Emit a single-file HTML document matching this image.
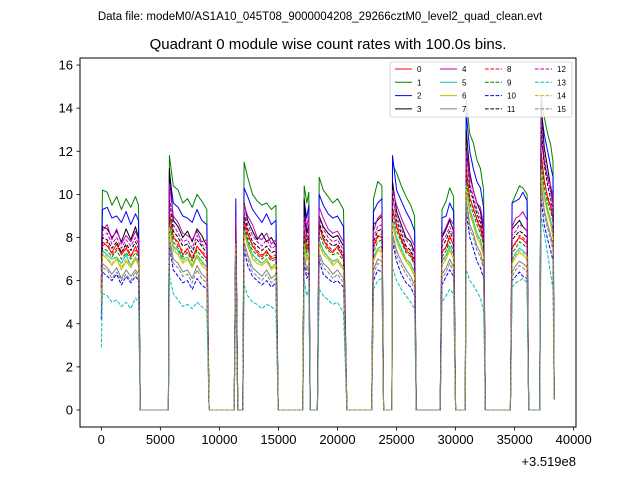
<!DOCTYPE html>
<html><head><meta charset="utf-8"><style>
body{margin:0;background:#fff}
svg{font-family:"Liberation Sans","DejaVu Sans",sans-serif}
</style></head><body>
<svg id="chart" width="640" height="480" viewBox="0 0 640 480" xmlns="http://www.w3.org/2000/svg">
<rect x="0" y="0" width="640" height="480" fill="#fff"/>
<text x="320" y="20" font-size="11.5" text-anchor="middle">Data file: modeM0/AS1A10_045T08_9000004208_29266cztM0_level2_quad_clean.evt</text>
<text x="328" y="49" font-size="15" text-anchor="middle">Quadrant 0 module wise count rates with 100.0s bins.</text>
<g id="plot"></g>
<g id="axes"></g>
<g id="legend"></g>
<text x="576" y="466" font-size="13" text-anchor="end">+3.519e8</text>
</svg>
<script>
const times=[0,100,500,900,1300,1700,2100,2500,2900,3150,3300,5680,5770,6100,6500,6900,7300,7700,8100,8500,8930,9130,11250,11390,11560,11980,12090,12400,12800,13200,13600,14000,14400,14780,14980,17060,17180,17400,17570,17690,18300,18450,18800,19200,19600,20000,20510,20800,22900,23050,23400,23760,23900,24610,24660,25000,25400,25800,26200,26530,26670,28700,28850,29200,29500,29830,30000,30820,30900,31200,31500,31800,32100,32370,32520,34640,34780,35100,35400,35700,36050,36190,37120,37240,37500,37800,38050,38250,38350];
const s0=[5.5,7.8,7.6,7.3,7.7,7.2,7.5,7.1,7.6,7.2,0,0,9.2,8.0,7.8,7.2,7.5,7.0,7.6,7.3,7.0,0,0,8.0,0,0,8.8,8.2,7.6,7.3,7.1,7.4,7.0,7.1,0,0,8.4,7.4,7.8,0,0,8.6,7.9,7.5,7.3,7.6,7.0,0,0,7.6,8.1,8.0,0,0,9.4,8.5,7.9,7.4,7.2,6.8,0,0,7.3,7.6,8.1,7.6,0,0,11.3,9.8,9.4,8.8,8.4,7.8,0,0,7.5,7.8,8.0,7.9,7.7,0,0,12.0,10.7,9.8,9.4,8.9,0.5];
const s1=[7.0,10.2,10.1,9.5,9.9,9.3,9.8,9.4,9.9,9.5,0,0,11.8,10.4,10.2,9.6,9.8,9.4,10.0,9.7,9.3,0,0,8.5,0,0,11.5,10.8,10.0,9.7,9.5,9.6,9.3,9.5,0,0,10.4,9.6,10.1,0,0,10.8,10.2,9.9,9.6,9.8,9.3,0,0,9.8,10.6,10.4,0,0,11.4,11.0,10.4,9.9,9.5,9.0,0,0,9.3,9.7,10.3,9.9,0,0,14.4,12.8,12.4,11.6,11.2,10.2,0,0,9.6,10.0,10.4,10.3,10.0,0,0,14.6,13.6,12.8,12.3,11.5,0.6];
const s2=[6.5,9.3,9.4,8.9,9.0,8.7,9.2,8.6,9.1,8.8,0,0,11.0,9.6,9.4,9.0,8.9,8.7,9.3,8.8,8.6,0,0,9.8,0,0,10.3,9.9,9.3,9.0,8.7,9.1,8.6,8.8,0,0,9.7,8.9,9.5,0,0,10.0,9.5,9.1,8.9,9.0,8.5,0,0,9.2,9.6,9.8,0,0,11.8,10.2,9.7,9.2,8.8,8.3,0,0,8.9,9.0,9.6,9.2,0,0,13.8,12.0,11.2,10.6,10.3,9.4,0,0,9.6,9.7,9.8,10.1,9.7,0,0,13.9,12.8,12.0,11.3,10.8,0.6];
const s3=[6.0,8.5,8.4,8.0,8.3,7.8,8.4,7.9,8.5,8.0,0,0,11.2,8.8,8.5,8.0,8.3,7.8,8.4,8.1,7.6,0,0,8.6,0,0,9.6,8.8,8.3,7.9,8.2,7.8,8.0,7.6,0,0,9.8,8.2,8.6,0,0,9.0,8.5,8.2,8.0,8.1,7.6,0,0,8.6,8.8,9.0,0,0,10.6,9.2,8.6,8.0,7.8,7.3,0,0,8.0,8.4,8.8,8.3,0,0,13.0,11.0,10.2,9.6,9.2,8.3,0,0,8.4,8.6,8.8,8.5,8.3,0,0,14.2,12.2,11.2,10.3,9.6,0.5];
const s4=[6.0,8.3,8.6,7.9,8.4,7.7,8.1,7.8,8.3,7.9,0,0,10.5,9.0,8.7,8.2,8.1,7.9,8.3,7.8,7.9,0,0,9.0,0,0,9.5,9.0,8.6,8.0,7.9,8.2,7.7,7.9,0,0,9.2,8.5,9.0,0,0,9.4,8.9,8.4,8.2,8.3,7.8,0,0,8.3,8.9,9.1,0,0,10.2,9.5,8.9,8.4,8.0,7.6,0,0,8.1,8.5,8.9,8.6,0,0,12.2,10.8,10.2,9.6,9.4,8.6,0,0,8.5,8.9,9.0,9.2,8.8,0,0,12.6,11.5,10.8,10.4,9.9,0.6];
const s5=[5.0,7.4,7.2,7.0,7.1,6.8,7.2,6.7,7.1,6.9,0,0,8.6,7.6,7.4,7.0,7.1,6.7,7.2,6.9,6.6,0,0,7.8,0,0,8.4,7.8,7.2,7.0,6.8,7.0,6.6,6.8,0,0,7.8,7.1,7.3,0,0,7.9,7.4,7.1,6.9,7.0,6.6,0,0,7.1,7.5,7.6,0,0,8.8,8.0,7.5,7.0,6.8,6.4,0,0,6.9,7.2,7.6,7.2,0,0,10.6,9.3,8.8,8.2,7.9,7.3,0,0,7.0,7.3,7.5,7.4,7.2,0,0,11.3,10.0,9.3,8.8,8.3,0.5];
const s6=[4.8,7.2,7.0,6.7,7.0,6.5,6.9,6.6,7.0,6.7,0,0,8.4,7.4,7.2,6.8,7.0,6.6,7.1,6.7,6.5,0,0,7.6,0,0,8.2,7.6,7.0,6.8,6.7,6.9,6.5,6.7,0,0,7.6,6.9,7.2,0,0,7.7,7.2,7.0,6.7,6.9,6.5,0,0,6.9,7.4,7.3,0,0,8.6,7.8,7.3,6.9,6.6,6.2,0,0,6.7,7.0,7.4,7.0,0,0,10.3,9.1,8.6,8.0,7.7,7.1,0,0,6.8,7.1,7.3,7.2,7.0,0,0,11.0,9.8,9.1,8.6,8.0,0.5];
const s7=[4.5,6.8,6.6,6.3,6.6,6.1,6.5,6.2,6.5,6.3,0,0,8.0,7.0,6.8,6.4,6.5,6.1,6.7,6.3,6.1,0,0,7.2,0,0,7.8,7.2,6.6,6.4,6.2,6.5,6.1,6.3,0,0,7.2,6.5,6.8,0,0,7.3,6.8,6.6,6.3,6.5,6.1,0,0,6.5,7.0,6.9,0,0,8.2,7.4,6.9,6.5,6.2,5.8,0,0,6.3,6.6,7.0,6.6,0,0,9.8,8.6,8.2,7.6,7.3,6.7,0,0,6.4,6.7,6.9,6.8,6.6,0,0,10.5,9.3,8.6,8.1,7.6,0.5];
const s8=[5.6,7.6,7.8,7.2,7.5,7.3,7.6,7.2,7.4,7.3,0,0,9.0,8.1,7.6,7.4,7.3,7.1,7.5,7.4,7.1,0,0,8.1,0,0,8.7,8.0,7.7,7.4,7.2,7.3,7.1,7.2,0,0,8.2,7.6,7.9,0,0,8.4,8.0,7.6,7.4,7.5,7.1,0,0,7.5,8.0,8.2,0,0,9.2,8.6,8.0,7.5,7.3,6.9,0,0,7.4,7.5,8.0,7.7,0,0,11.1,9.9,9.3,8.9,8.5,7.9,0,0,7.6,7.7,8.1,8.0,7.8,0,0,11.8,10.6,9.9,9.5,9.0,0.5];
const s9=[5.4,7.5,7.4,7.1,7.4,7.0,7.3,7.0,7.3,7.1,0,0,8.8,7.8,7.5,7.1,7.3,6.9,7.4,7.1,6.9,0,0,7.9,0,0,8.5,7.9,7.4,7.2,7.0,7.2,6.9,7.0,0,0,8.0,7.3,7.6,0,0,8.2,7.7,7.4,7.2,7.3,6.9,0,0,7.3,7.8,7.9,0,0,9.0,8.3,7.8,7.3,7.1,6.7,0,0,7.1,7.4,7.8,7.4,0,0,10.8,9.6,9.1,8.6,8.2,7.6,0,0,7.3,7.5,7.8,7.7,7.5,0,0,11.6,10.3,9.6,9.2,8.7,0.5];
const s10=[4.2,6.4,6.2,6.0,6.3,5.8,6.2,5.9,6.2,6.0,0,0,7.6,6.5,6.2,5.9,6.0,5.6,6.1,5.8,5.6,0,0,7.0,0,0,7.4,6.7,6.2,6.0,5.8,6.0,5.7,5.9,0,0,6.8,6.1,6.4,0,0,6.9,6.3,6.1,5.9,6.0,5.7,0,0,6.0,6.5,6.4,0,0,7.8,6.9,6.3,5.9,5.7,5.3,0,0,5.8,6.2,6.5,6.2,0,0,9.2,8.0,7.5,6.9,6.6,6.1,0,0,6.0,6.2,6.4,6.2,6.1,0,0,9.8,8.6,7.9,7.4,6.9,0.5];
const s11=[5.7,8.0,7.9,7.5,7.8,7.3,7.7,7.4,7.8,7.5,0,0,9.8,8.3,8.0,7.6,7.7,7.3,7.9,7.6,7.3,0,0,8.3,0,0,9.0,8.4,7.8,7.6,7.4,7.6,7.3,7.4,0,0,9.3,7.8,8.1,0,0,8.7,8.1,7.8,7.6,7.7,7.2,0,0,7.8,8.3,8.4,0,0,10.0,8.8,8.2,7.6,7.4,7.0,0,0,7.6,7.9,8.3,7.9,0,0,12.2,10.3,9.7,9.1,8.7,8.0,0,0,7.9,8.1,8.3,8.2,8.0,0,0,13.2,11.4,10.4,9.8,9.2,0.5];
const s12=[5.8,8.1,8.2,7.7,8.0,7.5,7.9,7.6,8.0,7.7,0,0,9.9,8.6,8.2,7.8,7.9,7.5,8.1,7.7,7.5,0,0,8.6,0,0,9.2,8.6,8.1,7.8,7.6,7.9,7.5,7.6,0,0,8.9,8.0,8.4,0,0,8.9,8.4,8.0,7.8,7.9,7.4,0,0,8.0,8.5,8.6,0,0,9.8,9.0,8.4,7.9,7.6,7.2,0,0,7.8,8.1,8.5,8.1,0,0,12.0,10.5,9.9,9.3,8.9,8.2,0,0,8.1,8.3,8.6,8.5,8.3,0,0,13.6,11.8,10.7,10.1,9.5,0.5];
const s13=[2.9,5.4,5.3,5.0,5.1,4.8,5.0,4.7,5.2,5.0,0,0,6.2,5.4,5.1,4.8,4.9,4.7,5.0,4.8,4.6,0,0,5.6,0,0,5.8,5.3,5.0,4.9,4.7,4.9,4.8,4.6,0,0,6.0,5.3,5.6,0,0,5.6,5.3,5.1,4.9,5.0,4.5,0,0,5.6,6.0,6.1,0,0,6.6,6.0,5.6,5.3,5.0,4.7,0,0,5.0,5.3,5.6,5.4,0,0,6.5,6.0,5.8,5.5,5.2,4.6,0,0,5.7,5.9,6.0,6.1,5.9,0,0,9.0,8.2,7.2,6.3,5.6,0.5];
const s14=[5.0,7.3,7.1,6.8,7.1,6.6,7.0,6.7,7.1,6.8,0,0,8.5,7.5,7.3,6.9,7.1,6.7,7.2,6.8,6.6,0,0,7.7,0,0,8.3,7.7,7.1,6.9,6.8,7.0,6.6,6.8,0,0,7.7,7.0,7.3,0,0,7.8,7.3,7.1,6.8,7.0,6.6,0,0,7.0,7.5,7.4,0,0,8.7,7.9,7.4,7.0,6.7,6.3,0,0,6.8,7.1,7.5,7.1,0,0,10.4,9.2,8.7,8.1,7.8,7.2,0,0,6.9,7.2,7.4,7.3,7.1,0,0,11.1,9.9,9.2,8.7,8.1,0.5];
const s15=[4.4,6.6,6.5,6.1,6.4,6.0,6.3,6.0,6.4,6.1,0,0,7.8,6.8,6.6,6.2,6.3,5.9,6.5,6.1,5.9,0,0,7.0,0,0,7.6,7.0,6.4,6.2,6.0,6.3,5.9,6.1,0,0,7.0,6.3,6.6,0,0,7.1,6.6,6.4,6.1,6.3,5.9,0,0,6.3,6.8,6.7,0,0,8.0,7.2,6.7,6.3,6.0,5.6,0,0,6.1,6.4,6.8,6.4,0,0,9.6,8.4,8.0,7.4,7.1,6.5,0,0,6.2,6.5,6.7,6.6,6.4,0,0,10.3,9.1,8.4,7.9,7.4,0.5];
const seriesLabels=["0","1","2","3","4","5","6","7","8","9","10","11","12","13","14","15"];
const xTicks=[0,5000,10000,15000,20000,25000,30000,35000,40000];
const yTicks=[0,2,4,6,8,10,12,14,16];

const allSeries=[s0,s1,s2,s3,s4,s5,s6,s7,s8,s9,s10,s11,s12,s13,s14,s15];
const colors=["#ff0000","#008000","#0000ff","#000000","#bf00bf","#00bfbf","#bfbf00","#808080"];
const NS="http://www.w3.org/2000/svg";
const L=80,R=576,T=58,B=427;
function xs(t){return 101.3+t*0.01181;}
function ys(v){return 410-v*21.56;}
function mk(tag,attrs,parent){const e=document.createElementNS(NS,tag);for(const k in attrs)e.setAttribute(k,attrs[k]);parent.appendChild(e);return e;}
const plot=document.getElementById('plot'),axes=document.getElementById('axes'),leg=document.getElementById('legend');
// series
allSeries.forEach((arr,i)=>{
  const n=Math.min(arr.length,times.length);
  let d='';
  for(let k=0;k<n;k++){d+=(k?'L':'M')+xs(times[k]).toFixed(1)+','+ys(arr[k]).toFixed(1);}
  const p=mk('path',{d:d,fill:'none',stroke:colors[i%8],'stroke-width':1,'stroke-linejoin':'round'},plot);
  if(i>=8)p.setAttribute('stroke-dasharray','3.7,1.6');
  
  
});
// frame
const fr=mk('rect',{x:L,y:T,width:R-L,height:B-T,fill:'none',stroke:'#000','stroke-width':1},axes);


xTicks.forEach(t=>{
  const x=xs(t);
  mk('line',{x1:x,x2:x,y1:B,y2:B+3.5,stroke:'#000','stroke-width':0.8},axes);
  const tx=mk('text',{x:x,y:B+17,'font-size':13,'text-anchor':'middle'},axes);
  tx.textContent=t;
  
  
});
yTicks.forEach(v=>{
  const y=ys(v);
  mk('line',{x1:L-3.5,x2:L,y1:y,y2:y,stroke:'#000','stroke-width':0.8},axes);
  const tx=mk('text',{x:L-7,y:y+4.5,'font-size':13,'text-anchor':'end'},axes);
  tx.textContent=v;
  
  
});
// legend
const lb=mk('rect',{x:390,y:62,width:182,height:55,fill:'#fff','fill-opacity':0.85,stroke:'#ccc','stroke-width':0.8,rx:2},leg);


const colX=[395,440,485,535];
seriesLabels.forEach((lab,i)=>{
  const c=Math.floor(i/4),r=i%4;
  const y=69+r*13.3;
  const ln=mk('line',{x1:colX[c],x2:colX[c]+17,y1:y,y2:y,stroke:colors[i%8],'stroke-width':1},leg);
  if(i>=8)ln.setAttribute('stroke-dasharray','3.7,1.6');
  
  
  const tx=mk('text',{x:colX[c]+22,y:y+3,'font-size':8},leg);
  tx.textContent=lab;
  
  
});
</script>
</body></html>
